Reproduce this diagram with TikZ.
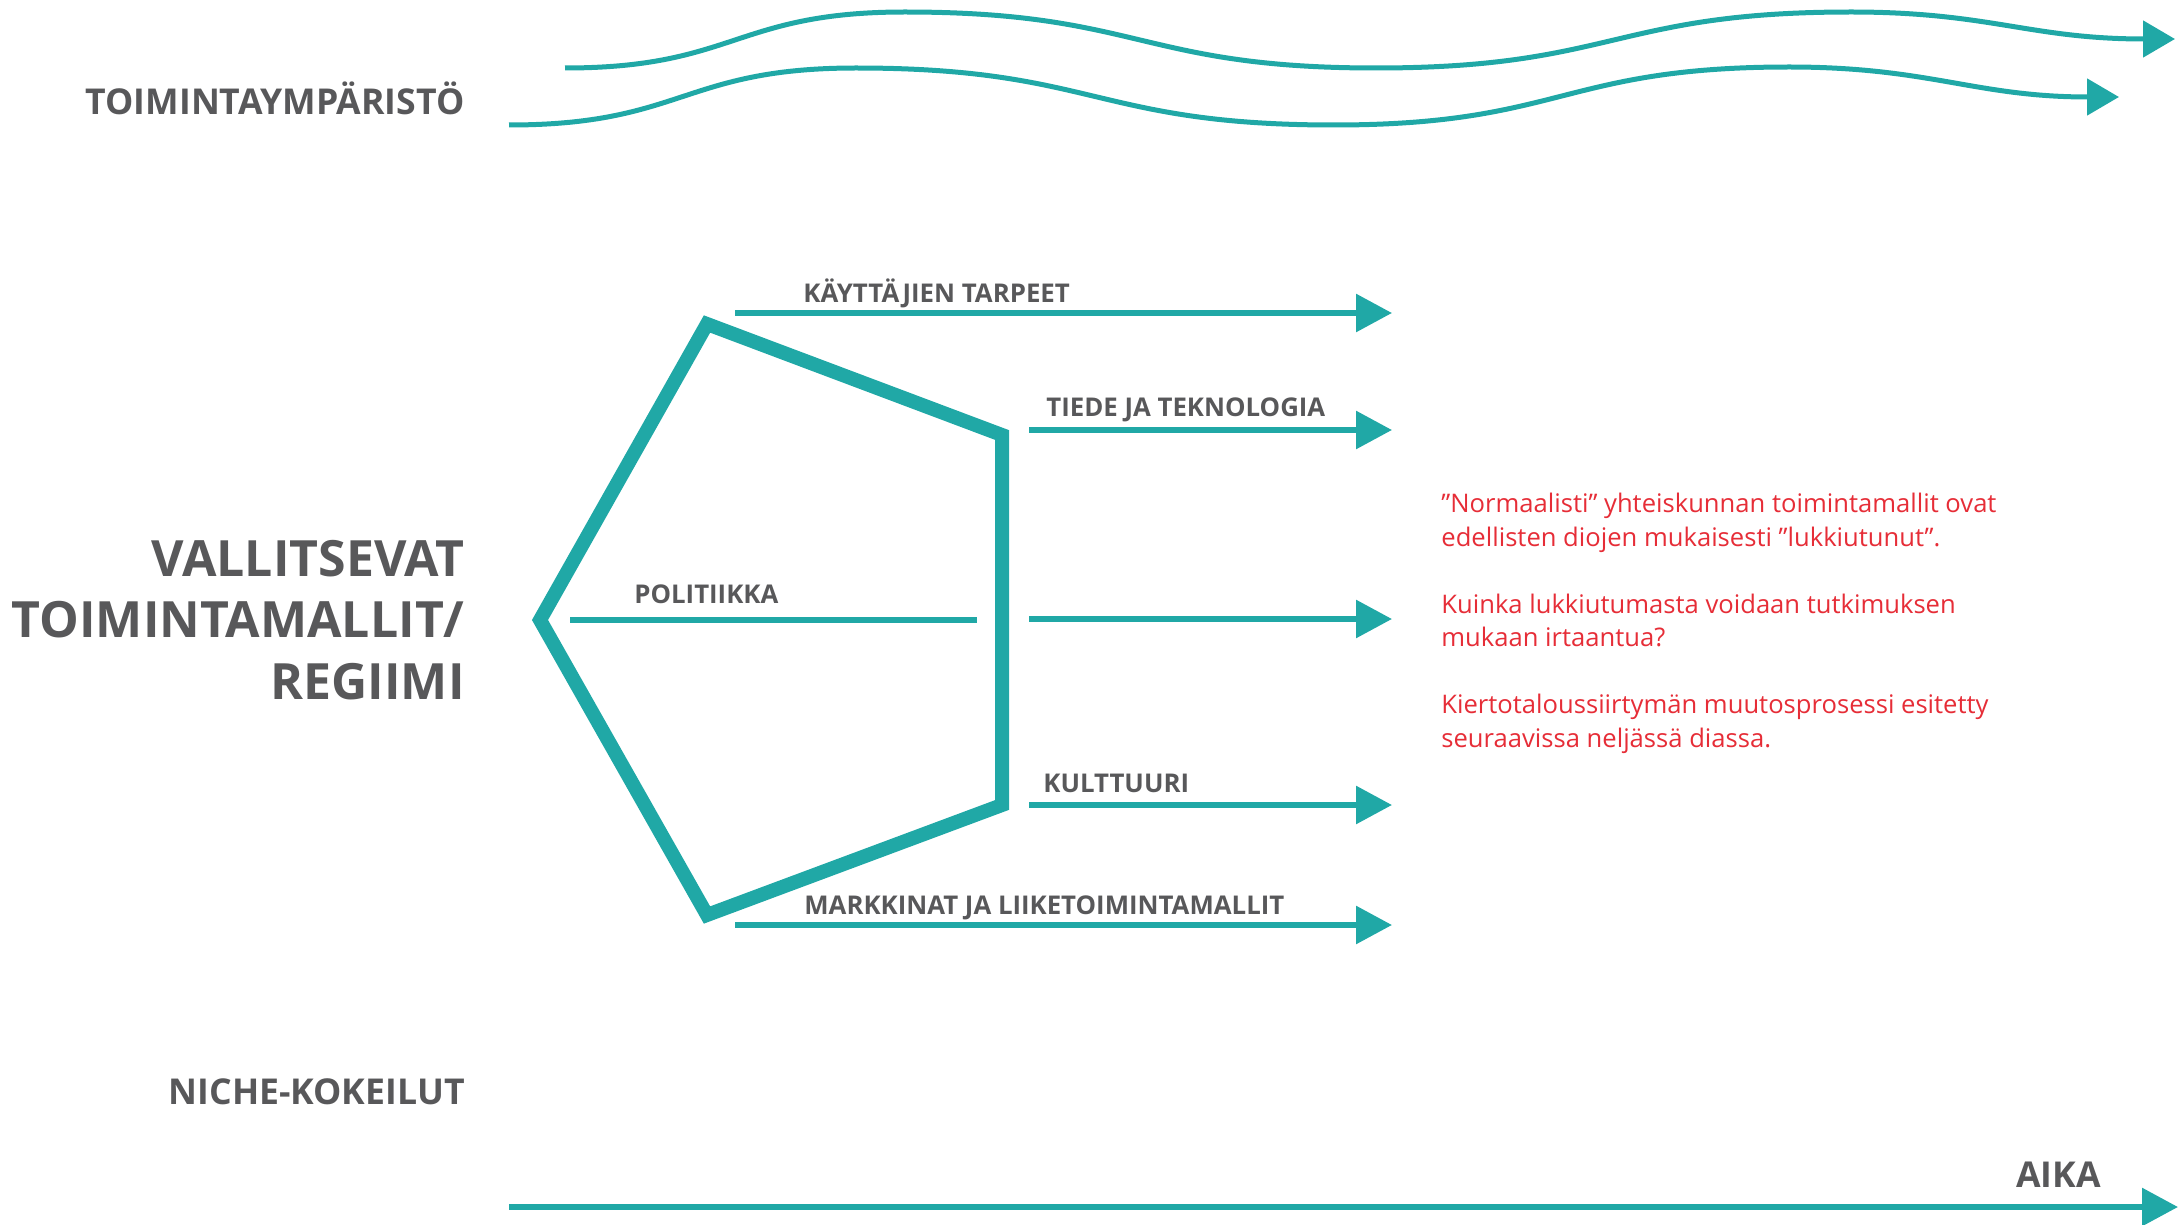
\documentclass[tikz,border=0pt]{standalone}
\usepackage{fontspec}
\setmainfont{Open Sans}
\usetikzlibrary{arrows.meta, positioning}
\definecolor{regteal}{RGB}{32,168,166}
\definecolor{labelgray}{RGB}{88,88,90}
\definecolor{notered}{RGB}{230,45,55}

\begin{document}
\begin{tikzpicture}[x=0.5pt, y=-0.5pt,
						tag/.style={font=\bfseries\fontsize{12.9}{15}\selectfont, text=labelgray, inner sep=0pt, text depth=0pt},
						side/.style={font=\bfseries\fontsize{17.8}{21}\selectfont, text=labelgray, inner sep=0pt, anchor=base east},
						big/.style={font=\bfseries\fontsize{25}{30.75}\selectfont, text=labelgray, inner sep=0pt, anchor=base east, align=right},
						note/.style={font=\fontsize{12.8}{16.75}\selectfont, text=notered, inner sep=0pt, anchor=base west, align=left},
						wave/.style={draw=regteal, line width=2.5pt, -{Triangle[length=16pt, width=18pt]}},
						every edge/.append style={draw=regteal, line width=3pt, -{Triangle[length=18pt, width=18.5pt]}},]
		\useasboundingbox (0,0) rectangle (2181,1225);

		\coordinate (ptop) at (707,324);
		\coordinate (pru) at (1002,435);
		\coordinate (prl) at (1002,805);
		\coordinate (pbot) at (707,915);
		\coordinate (pleft) at (540,620);

		\coordinate (kt0) at (735,313);		\coordinate (kt1) at (1392,313);
		\coordinate (td0) at (1029,430);	\coordinate (td1) at (1392,430);
		\coordinate (po0) at (570,620);		\coordinate (po1) at (977,620);
		\coordinate (mid0) at (1029,619);	\coordinate (mid1) at (1392,619);
		\coordinate (ku0) at (1029,805);	\coordinate (ku1) at (1392,805);
		\coordinate (ma0) at (735,925);		\coordinate (ma1) at (1392,925);
		\coordinate (t0) at (509,1207);		\coordinate (t1) at (2178,1207);
		\coordinate (w1s) at (565,68);		\coordinate (w1e) at (2175,39);
		\coordinate (w2s) at (509,125);		\coordinate (w2e) at (2119,97);

		\node (env) [side] at (465,115) {TOIMINTAYMPÄRISTÖ};
		\node (regime) [big] at (465,699) {VALLITSEVAT\\TOIMINTAMALLIT/\\REGIIMI};
		\node (niche) [side] at (465,1104) {NICHE-KOKEILUT};
		\node (aika) [side] at (2101,1187) {AIKA};

		\node (needs) [tag, above right=5pt and 34pt of kt0] {KÄYTTÄJIEN TARPEET};
		\node (tech) [tag, above right=6.5pt and 8.5pt of td0] {TIEDE JA TEKNOLOGIA};
		\node (policy) [tag, above right=8pt and 32pt of po0] {POLITIIKKA};
		\node (culture) [tag, above right=6pt and 7pt of ku0] {KULTTUURI};
		\node (market) [tag, above right=5pt and 34.5pt of ma0] {MARKKINAT JA LIIKETOIMINTAMALLIT};

		\node (notes) [note] at (1441,747) {”Normaalisti” yhteiskunnan toimintamallit ovat\\edellisten diojen mukaisesti ”lukkiutunut”.\\[16.75pt]Kuinka lukkiutumasta voidaan tutkimuksen\\mukaan irtaantua?\\[16.75pt]Kiertotaloussiirtymän muutosprosessi esitetty\\seuraavissa neljässä diassa.};

		\draw[wave] (w1s) .. controls (735,68) and (735,12) .. (905,12) .. controls (1140,12) and (1140,68) .. (1376,68) .. controls (1614,68) and (1614,12) .. (1851,12) .. controls (1990,12) and (2030,39) .. (w1e);
		\draw[wave] (w2s) .. controls (683,125) and (683,68) .. (856,68) .. controls (1095,68) and (1095,125) .. (1334,125) .. controls (1562,125) and (1562,67) .. (1789,67) .. controls (1930,67) and (1975,97) .. (w2e);

		\draw[regteal, line width=7pt, line join=miter] (ptop) -- (pru) -- (prl) -- (pbot) -- (pleft) -- cycle;
		\draw[regteal, line width=2.8pt] (po0) -- (po1);

		\path 	(kt0)	edge	(kt1)
				(td0)	edge	(td1)
				(mid0)	edge	(mid1)
				(ku0)	edge	(ku1)
				(ma0)	edge	(ma1)
				(t0)	edge	(t1);
	\end{tikzpicture}
\end{document}
